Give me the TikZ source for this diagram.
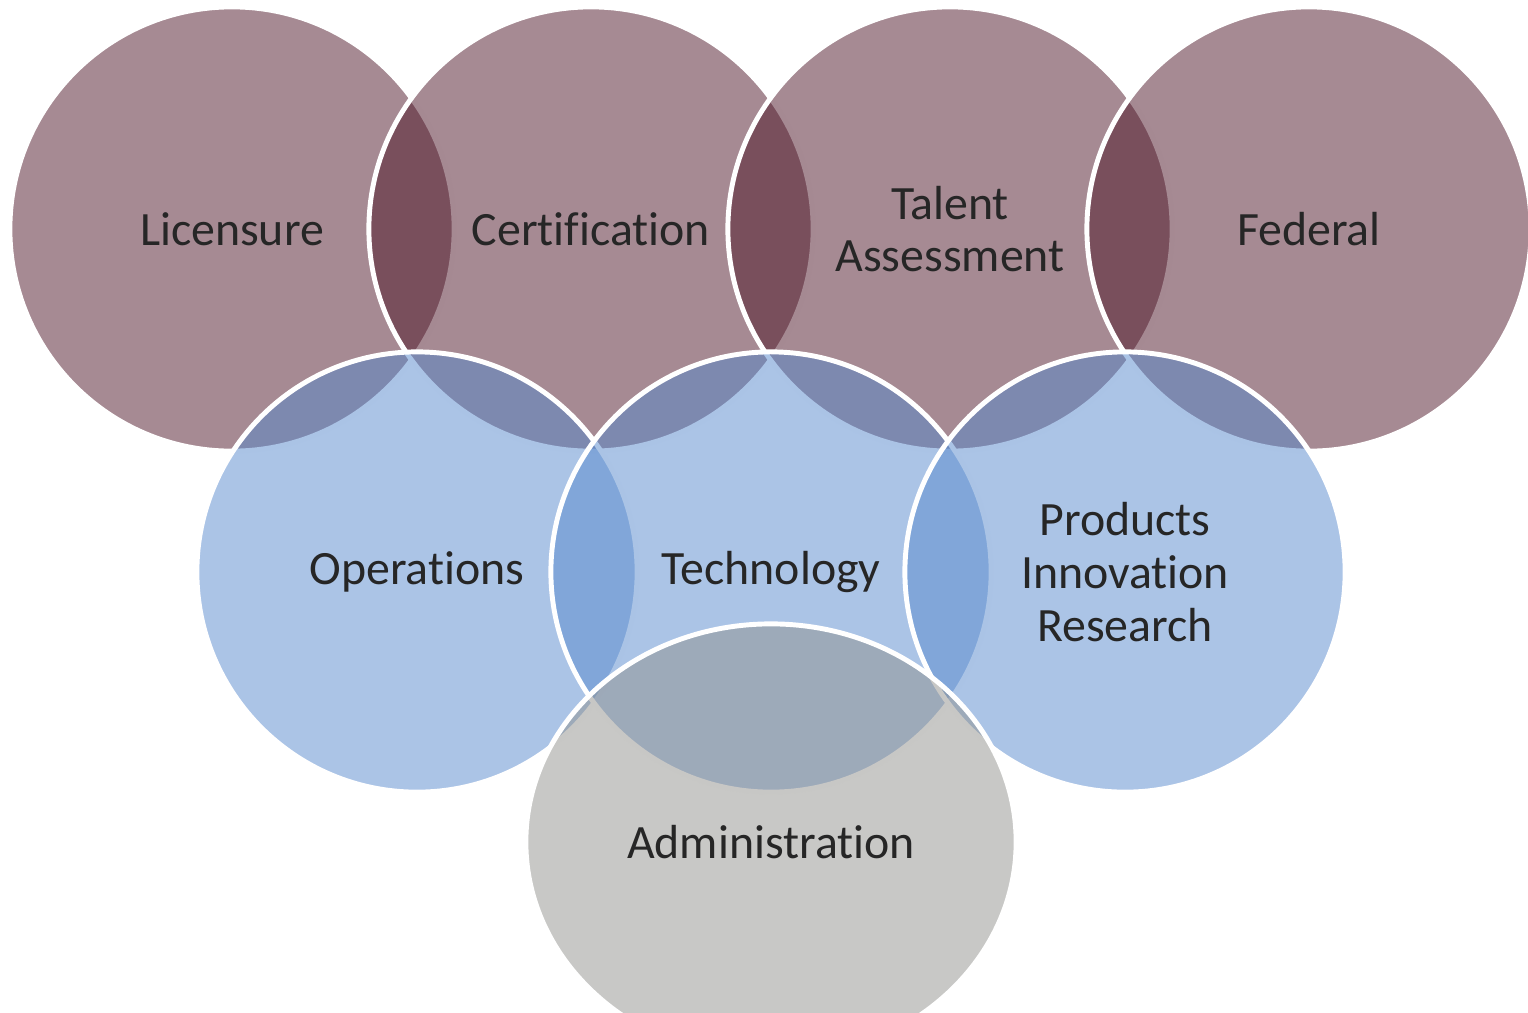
\documentclass[tikz,border=0pt]{standalone}
\usepackage{fontspec}
\setmainfont{Carlito}[Ligatures=NoCommon]
\usepackage{tikz}
\usepackage{xcolor}
\usetikzlibrary{positioning,shapes,shapes.geometric}
\definecolor{plum}{RGB}{77,21,39}
\definecolor{skyblue}{RGB}{87,137,205}
\definecolor{stone}{RGB}{145,145,141}
\definecolor{ink}{RGB}{38,38,38}
\tikzset{%
	ring/.style   = {draw=white, line width=1.4pt, fill opacity=0.5, draw opacity=1, text opacity=1, inner sep=0pt, text=ink, align=center, font=\fontsize{13.6}{15}\selectfont},
	toprow/.style = {ring, circle, fill=plum, minimum size=4.44cm},
	botrow/.style = {ring, circle, fill=skyblue, minimum size=4.40cm},
	base/.style   = {ring, ellipse, fill=stone, minimum width=4.90cm, minimum height=4.36cm},
}
\begin{document}
\begin{tikzpicture}[x=0.01cm,y=-0.01cm]
	\useasboundingbox (0,0) rectangle (1528,1012);
	\clip (0,0) rectangle (1528,1012);
	% upper row
	\node[toprow] (licensure)     at (232,229)  {Licensure};
	\node[toprow] (certification) at (591,229)  {Certification};
	\node[toprow] (talent)        at (950,229)  {Talent\\Assessment};
	\node[toprow] (federal)       at (1309,229) {Federal};
	% lower row
	\node[botrow] (operations) at (417,572)  {Operations};
	\node[botrow] (technology) at (771,572)  {Technology};
	\node[botrow] (products)   at (1125,572) {Products\\Innovation\\Research};
	% bottom
	\node[base] (admin) at (771,842) {Administration};
\end{tikzpicture}
\end{document}
